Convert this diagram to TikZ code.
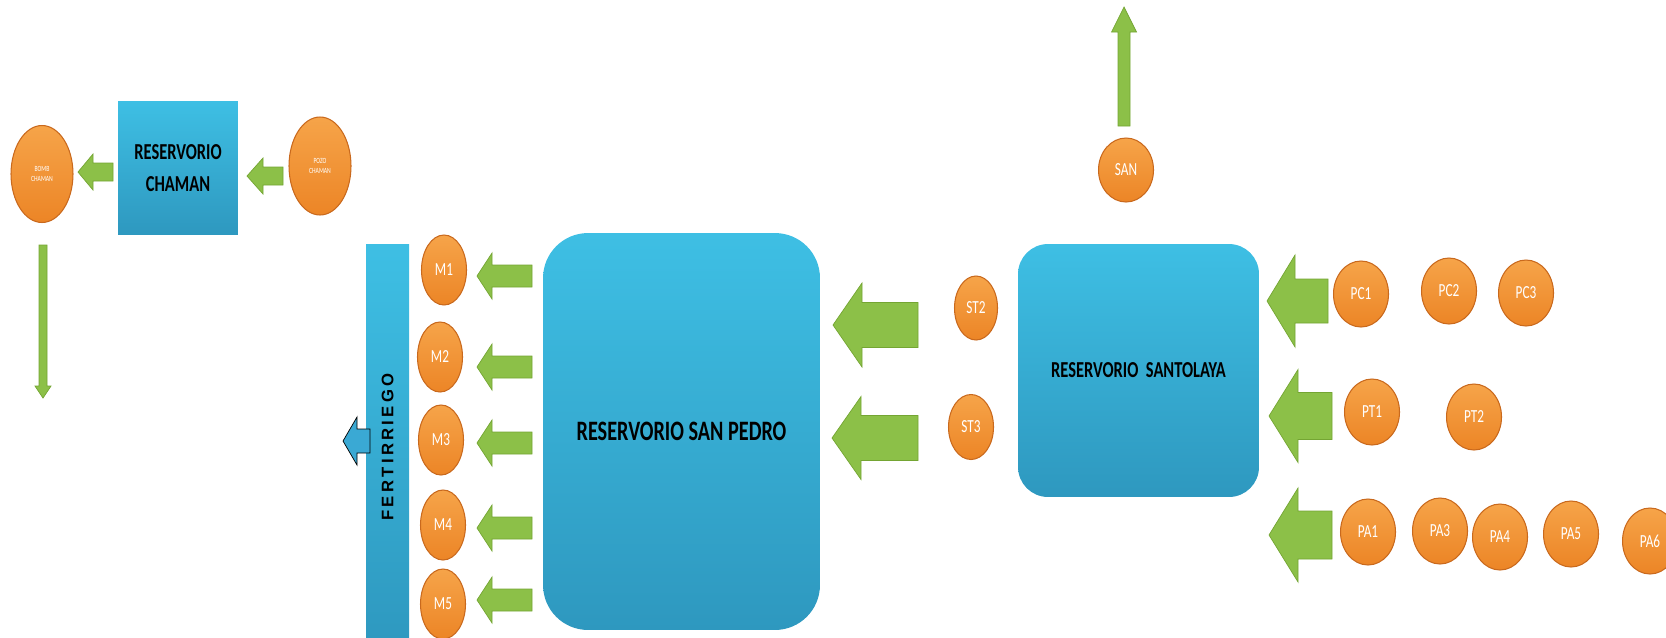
\documentclass[tikz,border=0pt]{standalone}
\usepackage{fontspec}
\usepackage{tikz}
\usetikzlibrary{shapes.geometric}
\newfontfamily\calib[FakeStretch=0.72]{Carlito}
\newfontfamily\fertfont[LetterSpace=20]{Liberation Sans}
\definecolor{naranjaA}{HTML}{F6A449}
\definecolor{naranjaB}{HTML}{EC8526}
\definecolor{naranjaC}{HTML}{C9691D}
\definecolor{azulA}{HTML}{3EBFE4}
\definecolor{azulB}{HTML}{2E98BF}
\definecolor{verde}{HTML}{8CC048}
\definecolor{verdeosc}{HTML}{74A533}
\definecolor{azulflecha}{HTML}{3AA9D4}
\tikzset{punto/.style={ellipse, draw=naranjaC, line width=0.6pt, top color=naranjaA, bottom color=naranjaB,
  text=white, inner sep=0pt, minimum width=1.1cm, minimum height=1.32cm, font=\calib\fontsize{10.5}{12}\selectfont}}
\tikzset{tanque/.style={draw=none, top color=azulA, bottom color=azulB, inner sep=0pt, align=center}}
\tikzset{flujo/.style={fill=verde, draw=verdeosc, line width=0.4pt}}
% block arrow: tail point, angle, length, half shaft, half head, head length
\newcommand{\flecha}[7][flujo]{%
\begin{scope}[shift={#2},rotate=#3]
\filldraw[#1] (0,-#5) -- (#4-#7,-#5) -- (#4-#7,-#6) -- (#4,0) -- (#4-#7,#6) -- (#4-#7,#5) -- (0,#5) -- cycle;
\end{scope}}

\begin{document}
\begin{tikzpicture}[x=0.02cm,y=-0.02cm]
\useasboundingbox (0,0) rectangle (1666,637);
\clip (0,0) rectangle (1666,637);
% chaman
\node[tanque, minimum width=2.4cm, minimum height=2.68cm, font=\calib\bfseries\fontsize{13}{18}\selectfont] (chaman) at (178,168) {RESERVORIO\\CHAMAN};
\node[punto, minimum width=1.24cm, minimum height=1.94cm, font=\calib\fontsize{4.5}{5.5}\selectfont, align=center] (bomb) at (42,174) {BOMB\\CHAMAN};
\node[punto, minimum width=1.24cm, minimum height=1.96cm, font=\calib\fontsize{4.5}{5.5}\selectfont, align=center] (pozo) at (320,166) {POZO\\CHAMAN};
\flecha{(113,172)}{180}{35}{9}{18}{15}
\flecha{(283,176)}{180}{36}{9}{18}{16}
\flecha{(43,245)}{270}{153}{4}{8}{12}
% san pedro
\node[tanque, rounded corners=0.9cm, minimum width=5.54cm, minimum height=7.94cm, font=\calib\bfseries\fontsize{16}{18}\selectfont] (sanpedro) at (681.5,431.5) {RESERVORIO SAN PEDRO};
\node[tanque, rotate=90, minimum width=8.12cm, minimum height=0.86cm, font=\fertfont\bfseries\fontsize{9.5}{11}\selectfont] (fert) at (387.5,447) {FERTIRRIEGO};
\flecha[fill=azulflecha]{(370,441)}{180}{27}{12}{24}{14}
\node[punto, minimum width=0.9cm, minimum height=1.4cm] (m1) at (444,270) {M1};
\node[punto, minimum width=0.9cm, minimum height=1.4cm] (m2) at (440,357) {M2};
\node[punto, minimum width=0.9cm, minimum height=1.4cm] (m3) at (441,440) {M3};
\node[punto, minimum width=0.9cm, minimum height=1.4cm] (m4) at (443,525) {M4};
\node[punto, minimum width=0.9cm, minimum height=1.4cm] (m5) at (443,604) {M5};
\flecha{(532,276)}{180}{55}{11}{23}{15}
\flecha{(532,367)}{180}{55}{11}{23}{15}
\flecha{(532,443)}{180}{55}{11}{23}{15}
\flecha{(532,528)}{180}{55}{11}{23}{15}
\flecha{(532,600)}{180}{55}{11}{23}{15}
% santolaya
\node[tanque, rounded corners=0.6cm, minimum width=4.82cm, minimum height=5.06cm, font=\calib\bfseries\fontsize{13}{15}\selectfont] (santolaya) at (1138.5,370.5) {RESERVORIO\ \ SANTOLAYA};
\node[punto, minimum width=0.86cm, minimum height=1.28cm] (st2) at (976,308) {ST2};
\node[punto, minimum width=0.9cm, minimum height=1.3cm] (st3) at (971,427) {ST3};
\flecha{(918,325)}{180}{85}{22.5}{42}{29}
\flecha{(918,438)}{180}{86}{22.5}{41.5}{29}
\node[punto, minimum height=1.28cm] (san) at (1126,170) {SAN};
\flecha{(1124,126)}{90}{119}{6}{12.5}{25}
% pozos
\flecha{(1328,301)}{180}{61}{22}{46}{28}
\flecha{(1332,416)}{180}{63}{23.5}{46.5}{29}
\flecha{(1332,535)}{180}{63}{24}{47}{29}
\node[punto] (pc1) at (1361,294) {PC1};
\node[punto] (pc2) at (1449,291) {PC2};
\node[punto] (pc3) at (1526,293) {PC3};
\node[punto] (pt1) at (1372,412) {PT1};
\node[punto] (pt2) at (1474,417) {PT2};
\node[punto] (pa1) at (1368,532) {PA1};
\node[punto] (pa3) at (1440,531) {PA3};
\node[punto] (pa4) at (1500,537) {PA4};
\node[punto] (pa5) at (1571,534) {PA5};
\node[punto] (pa6) at (1650,541) {PA6};
\end{tikzpicture}
\end{document}
